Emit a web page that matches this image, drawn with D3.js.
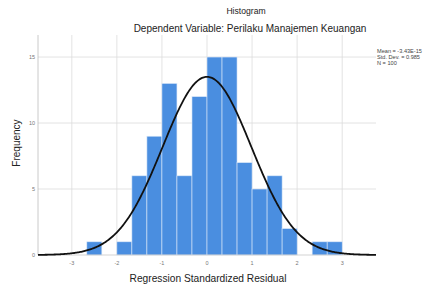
<!DOCTYPE html>
<html>
<head>
<meta charset="utf-8">
<script src="https://cdn.jsdelivr.net/npm/d3@7"></script>
<style>
  body { margin: 0; background: #fff; }
  text { font-family: "Liberation Sans", Arial, sans-serif; }
</style>
</head>
<body>
<script>
// histogram bins (width 1/3), counts
var binStart = -8 / 3;
var binWidth = 1 / 3;
var counts = [1, 0, 1, 6, 9, 13, 6, 12, 15, 15, 7, 5, 6, 2, 0, 1, 1];
var xTicks = [-3, -2, -1, 0, 1, 2, 3];
var yTicks = [0, 5, 10, 15];
var stats = { mean: 0, sd: 0.985, n: 100 };
var legendLines = ["Mean = -3.43E-15", "Std. Dev. = 0.985", "N = 100"];

function main(){
  var width = 428, height = 286;
  var svg = d3.select("body").append("svg")
    .attr("width", width)
    .attr("height", height);

  var x = d3.scaleLinear().domain([-3.75, 3.75]).range([38, 376]);
  var y = d3.scaleLinear().domain([0, 16.67]).range([255, 35]);

  // grid
  svg.append("g").selectAll("line")
    .data(xTicks)
    .enter().append("line")
    .attr("x1", d => x(d)).attr("x2", d => x(d))
    .attr("y1", y.range()[1]).attr("y2", y(0))
    .attr("stroke", "#dcdcdc").attr("stroke-width", 0.8);
  svg.append("g").selectAll("line")
    .data(yTicks.filter(d => d > 0))
    .enter().append("line")
    .attr("x1", x.range()[0]).attr("x2", x.range()[1])
    .attr("y1", d => y(d)).attr("y2", d => y(d))
    .attr("stroke", "#dcdcdc").attr("stroke-width", 0.8);
  svg.append("line")
    .attr("x1", x.range()[0]).attr("x2", x.range()[0])
    .attr("y1", y.range()[1]).attr("y2", y(0))
    .attr("stroke", "#bdbdbd").attr("stroke-width", 0.8);

  // bars
  svg.append("g").selectAll("rect")
    .data(counts)
    .enter().append("rect")
    .attr("x", (d, i) => x(binStart + i * binWidth))
    .attr("width", x(binWidth) - x(0))
    .attr("y", d => y(d))
    .attr("height", d => y(0) - y(d))
    .attr("fill", "#4a8ee0")
    .attr("stroke", "#dbe8f8")
    .attr("stroke-width", 0.6);

  // baseline
  svg.append("line")
    .attr("x1", x.range()[0]).attr("x2", x.range()[1])
    .attr("y1", y(0)).attr("y2", y(0))
    .attr("stroke", "#c8c8c8").attr("stroke-width", 0.8);

  // normal curve from the fitted stats
  var pts = d3.range(-3.75, 3.7501, 0.02).map(function(v){
    var z = (v - stats.mean) / stats.sd;
    return [v, stats.n * binWidth * Math.exp(-0.5 * z * z) / (stats.sd * Math.sqrt(2 * Math.PI))];
  });
  svg.append("path")
    .datum(pts)
    .attr("d", d3.line().x(d => x(d[0])).y(d => y(d[1])))
    .attr("fill", "none")
    .attr("stroke", "#111")
    .attr("stroke-width", 1.8);

  // tick labels
  svg.append("g").selectAll("text")
    .data(xTicks)
    .enter().append("text")
    .attr("x", d => x(d)).attr("y", 265)
    .attr("text-anchor", "middle")
    .attr("font-size", 5.5).attr("fill", "#777")
    .text(d => d);
  svg.append("g").selectAll("text")
    .data(yTicks)
    .enter().append("text")
    .attr("x", 35).attr("y", d => y(d) + 2)
    .attr("text-anchor", "end")
    .attr("font-size", 5.5).attr("fill", "#777")
    .text(d => d);

  // titles
  svg.append("text").attr("x", 246).attr("y", 14)
    .attr("text-anchor", "middle").attr("font-size", 8.6).attr("fill", "#222")
    .text("Histogram");
  svg.append("text").attr("x", 250).attr("y", 32)
    .attr("text-anchor", "middle").attr("font-size", 10).attr("fill", "#222")
    .text("Dependent Variable: Perilaku Manajemen Keuangan");
  svg.append("text").attr("x", 208).attr("y", 282)
    .attr("text-anchor", "middle").attr("font-size", 10.2).attr("fill", "#222")
    .text("Regression Standardized Residual");
  svg.append("text")
    .attr("transform", "translate(20,143) rotate(-90)")
    .attr("text-anchor", "middle").attr("font-size", 10).attr("fill", "#222")
    .text("Frequency");

  // stats legend
  svg.append("g").selectAll("text")
    .data(legendLines)
    .enter().append("text")
    .attr("x", 377).attr("y", (d, i) => 53 + i * 6)
    .attr("font-size", 5.6).attr("fill", "#444")
    .text(d => d);
}

main();
</script>
</body>
</html>
